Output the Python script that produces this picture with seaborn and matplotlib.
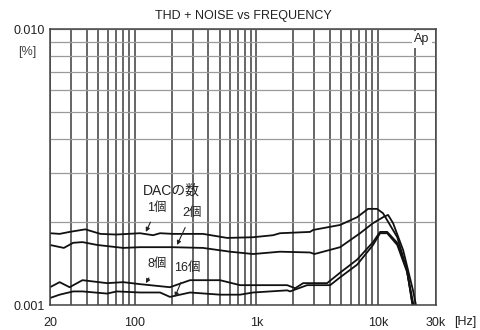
import numpy as np
import pandas as pd
import seaborn as sns
import matplotlib.pyplot as plt
from matplotlib.ticker import LogLocator, NullFormatter, FixedLocator, FixedFormatter

# THD+N readings (x 0.001 %) for each number of DACs
freq_1 = [20, 24, 29, 39, 52, 70, 110, 141, 161, 206, 363, 573, 938, 1370, 1560,
          2760, 2920, 4880, 6730, 8280, 9820, 11000, 14400, 17300, 19100, 19800]
thd_1 = [1.82, 1.81, 1.84, 1.88, 1.81, 1.80, 1.82, 1.79, 1.82, 1.81, 1.81, 1.75, 1.76, 1.79, 1.82,
         1.84, 1.87, 1.95, 2.08, 2.23, 2.23, 2.15, 1.76, 1.34, 1.02, 0.95]

freq_2 = [20, 26, 31, 37, 49, 80, 110, 200, 363, 606, 938, 1560, 2760, 3000, 4880,
          7120, 9100, 11000, 12100, 13300, 16100, 19400, 21000]
thd_2 = [1.65, 1.61, 1.68, 1.69, 1.65, 1.61, 1.62, 1.62, 1.61, 1.56, 1.53, 1.56, 1.55, 1.53, 1.62,
         1.82, 1.98, 2.08, 2.12, 1.98, 1.58, 1.13, 0.95]

freq_8 = [20, 24, 29, 37, 59, 80, 110, 194, 284, 501, 733, 1790, 2080, 2420, 3810,
          4880, 6730, 9100, 10400, 11900, 14400, 17300, 19100, 19800]
thd_8 = [1.16, 1.21, 1.16, 1.23, 1.20, 1.21, 1.19, 1.16, 1.23, 1.23, 1.18, 1.18, 1.15, 1.20, 1.20,
         1.31, 1.46, 1.69, 1.84, 1.84, 1.68, 1.34, 1.02, 0.95]

freq_16 = [20, 24, 31, 37, 59, 71, 110, 161, 194, 284, 501, 733, 938, 1790, 1890,
           2610, 4040, 4880, 6730, 9100, 10400, 11900, 14400, 17300, 19600, 20200]
thd_16 = [1.06, 1.09, 1.12, 1.12, 1.10, 1.12, 1.11, 1.11, 1.07, 1.11, 1.09, 1.09, 1.11, 1.13, 1.12,
          1.18, 1.18, 1.26, 1.40, 1.65, 1.82, 1.82, 1.65, 1.32, 1.00, 0.95]

x_ticks = [20, 100, 1000, 10000, 30000]
x_labels = ['20', '100', '1k', '10k', '30k']

frames = []
for name, f, v in [('1', freq_1, thd_1), ('2', freq_2, thd_2),
                   ('8', freq_8, thd_8), ('16', freq_16, thd_16)]:
    frames.append(pd.DataFrame({'freq': f, 'thd': np.array(v) * 1e-3, 'dac': name}))
df = pd.concat(frames, ignore_index=True)

sns.set_style('white')
plt.rcParams['font.family'] = ['Liberation Sans', 'Noto Sans CJK JP', 'DejaVu Sans']

fig = plt.figure(figsize=(4.81, 3.30), dpi=100)
ax = fig.add_axes([50 / 481, 1 - 305 / 330, 386 / 481, 276 / 330])

sns.lineplot(data=df, x='freq', y='thd', hue='dac', units='dac', estimator=None,
             palette=['#111111'] * 4, linewidth=1.3, legend=False, sort=False, ax=ax)

ax.set_xscale('log')
ax.set_yscale('log')
ax.set_xlim(20, 30000)
ax.set_ylim(0.001, 0.010)

# grid: dark verticals, lighter horizontals
ax.xaxis.set_minor_locator(LogLocator(base=10, subs=np.arange(2, 10)))
ax.yaxis.set_minor_locator(LogLocator(base=10, subs=np.arange(2, 10)))
ax.xaxis.set_minor_formatter(NullFormatter())
ax.yaxis.set_minor_formatter(NullFormatter())
ax.grid(True, axis='x', which='both', color='#3c3c3c', linewidth=1.1)
ax.grid(True, axis='y', which='both', color='#9a9a9a', linewidth=0.9)

ax.xaxis.set_major_locator(FixedLocator(x_ticks))
ax.xaxis.set_major_formatter(FixedFormatter(x_labels))
ax.yaxis.set_major_locator(FixedLocator([0.001, 0.01]))
ax.yaxis.set_major_formatter(FixedFormatter(['0.001', '0.010']))
ax.tick_params(axis='both', which='both', length=0, labelsize=9, colors='#222222')
ax.tick_params(axis='x', pad=9)
ax.tick_params(axis='y', pad=4)

for side in ['left', 'right', 'top', 'bottom']:
    ax.spines[side].set_color('#444444')
    ax.spines[side].set_linewidth(1.1)

ax.set_xlabel('')
ax.set_ylabel('')
ax.set_title('THD + NOISE vs FREQUENCY', fontsize=9, color='#222222', pad=7)

ax.text(1.075, -0.062, '[Hz]', transform=ax.transAxes, fontsize=9, color='#222222',
        ha='center', va='center')
ax.text(-0.035, 0.917, '[%]', transform=ax.transAxes, fontsize=9, color='#444444',
        ha='right', va='center')
ax.text(0.964, 0.962, 'Ap', transform=ax.transAxes, fontsize=9, color='#222222',
        ha='center', va='center',
        bbox=dict(facecolor='white', edgecolor='none', pad=1.5))

# curve labels
arrow = dict(arrowstyle='-|>', color='#222222', lw=0.8, mutation_scale=6, shrinkA=4, shrinkB=0)
ax.text(198, 0.00259, 'DACの数', fontsize=10, color='#222222', ha='center', va='center')
ax.annotate('1個', xy=(123, 0.00184), xytext=(152, 0.00225), fontsize=9, color='#222222',
            ha='center', va='center', arrowprops=arrow)
ax.annotate('2個', xy=(222, 0.00165), xytext=(294, 0.00215), fontsize=9, color='#222222',
            ha='center', va='center', arrowprops=arrow)
ax.annotate('8個', xy=(123, 0.00120), xytext=(152, 0.00141), fontsize=9, color='#222222',
            ha='center', va='center', arrowprops=arrow)
ax.annotate('16個', xy=(213, 0.00107), xytext=(268, 0.00136), fontsize=9, color='#222222',
            ha='center', va='center', arrowprops=arrow)

fig.savefig('out.png', dpi=100, facecolor='white')
